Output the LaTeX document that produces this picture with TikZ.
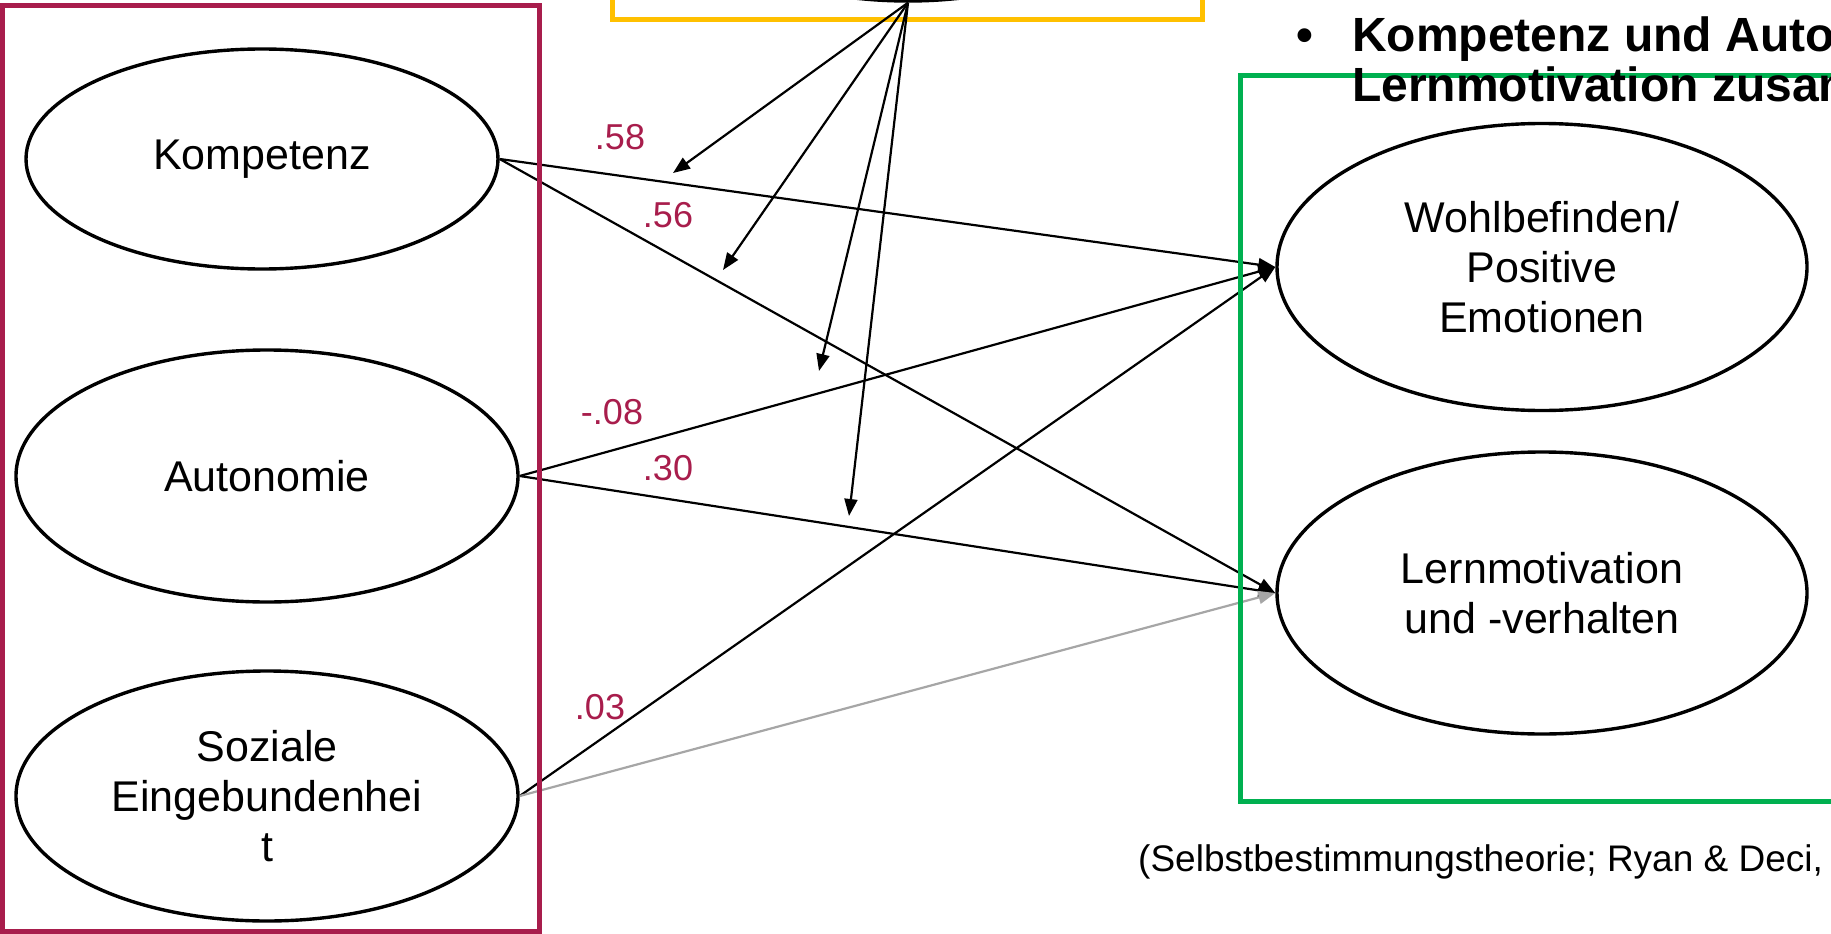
\documentclass[tikz,border=0pt]{standalone}
\usepackage{fontspec}
\setmainfont{Liberation Sans}
\usetikzlibrary{shapes.geometric,arrows.meta}
\definecolor{crimson}{RGB}{168,29,76}
\definecolor{boxgreen}{RGB}{0,176,80}
\definecolor{boxyellow}{RGB}{255,192,0}
\definecolor{pathgray}{RGB}{166,166,166}

\begin{document}
\begin{tikzpicture}[x=1pt,y=-1pt,
  construct/.style={ellipse,draw=black,line width=3.4pt,inner sep=0pt,
    align=center,font=\fontsize{43}{50}\selectfont},
  effect/.style={line width=2.2pt,-{Triangle[length=17pt,width=13pt]}},
  coef/.style={text=crimson,font=\fontsize{36}{40}\selectfont},
  frame/.style={line width=5pt},
]
\useasboundingbox (0,0) rectangle (1831,934);

% yellow frame round the (cropped) upper construct
\draw[frame,draw=boxyellow] (612,-60) rectangle (1202,20);
\node[construct,minimum width=480pt,minimum height=240pt] (top) at (908,-119) {};

% basic needs
\node[construct,minimum width=472pt,minimum height=220pt] (komp) at (262,159) {Kompetenz};
\node[construct,minimum width=502pt,minimum height=252pt] (auto) at (267,476) {Autonomie};
\node[construct,minimum width=502pt,minimum height=250pt] (sozi) at (267,796) {Soziale\\Eingebundenhei\\t};

% outcomes
\node[construct,minimum width=530pt,minimum height=287pt] (wohl) at (1542,267) {Wohlbefinden/\\Positive\\Emotionen};
\node[construct,minimum width=530pt,minimum height=282pt] (lern) at (1542,593) {Lernmotivation\\und -verhalten};

% free ends of the arrows from the upper construct
\coordinate (t1) at (673,173);
\coordinate (t2) at (723,270);
\coordinate (t3) at (819,371);
\coordinate (t4) at (849,516);
\foreach \t in {t1,t2,t3,t4} \draw[effect] (top.south) -- (\t);

% paths
\draw[effect] (komp.east) -- (wohl.west);
\draw[effect] (komp.east) -- (lern.west);
\draw[effect] (auto.east) -- (wohl.west);
\draw[effect] (auto.east) -- (lern.west);
\draw[effect] (sozi.east) -- (wohl.west);
\draw[effect,draw=pathgray,fill=pathgray] (sozi.east) -- (lern.west);

% coefficients
\node[coef] (c58) at (620,137) {.58};
\node[coef] (c56) at (668,215) {.56};
\node[coef] (c08) at (612,412) {-.08};
\node[coef] (c30) at (668,468) {.30};
\node[coef] (c03) at (600,707) {.03};

% frames
\draw[frame,draw=crimson] (2,6) rectangle (539,931);
\draw[frame,draw=boxgreen] (1240,76) rectangle (1900,801);

% heading and source
\node[anchor=base west,inner sep=0pt,font=\fontsize{48}{48}\selectfont\bfseries] (bul) at (1296,52) {•};
\node[anchor=base west,inner sep=0pt,font=\fontsize{48}{48}\selectfont\bfseries] (h1) at (1352,52) {Kompetenz und Auto};
\node[anchor=base west,inner sep=0pt,font=\fontsize{48}{48}\selectfont\bfseries] (h2) at (1352,101) {Lernmotivation zusam};
\node[anchor=base west,inner sep=0pt,font=\fontsize{37}{40}\selectfont] (src) at (1138,871) {(Selbstbestimmungstheorie; Ryan \& Deci,};
\end{tikzpicture}
\end{document}
